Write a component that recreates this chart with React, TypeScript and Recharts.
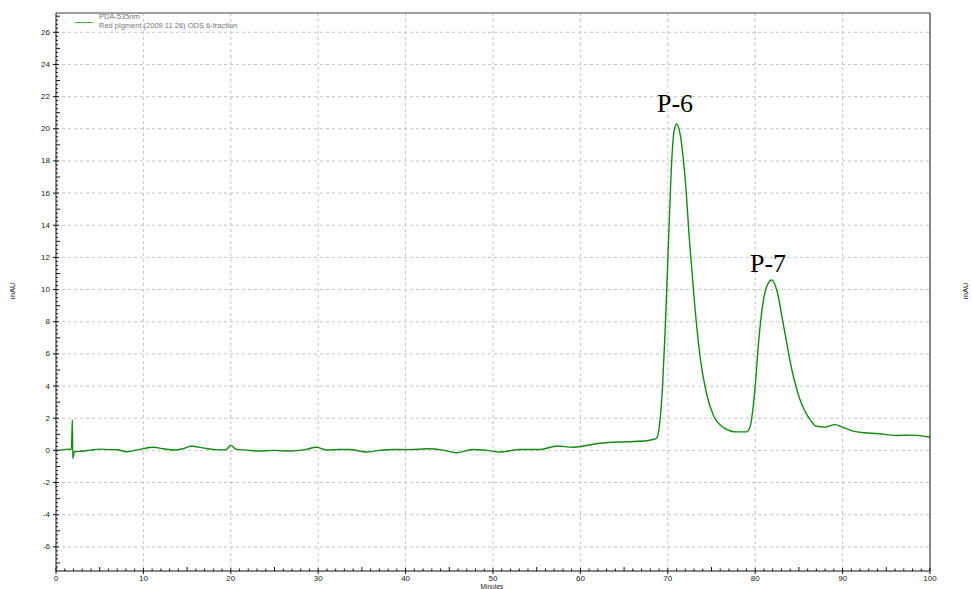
import React from 'react';
import { LineChart, Line, XAxis, YAxis, CartesianGrid, ReferenceLine } from 'recharts';

// retention time (min) and absorbance (mAU)
const minutes = [
  0, 0.8, 1.5, 1.75, 1.82, 1.87, 1.92, 2.1, 3, 4, 5, 6, 7, 8.1, 9.5, 11.1, 12.3, 13.4, 14.5, 15.5,
  16.3, 17.2, 18.2, 19.1, 19.6, 20.0, 20.4, 20.7, 21.8, 23.0, 25, 26.8, 28.5, 29.8, 31.0, 32.5, 33.6,
  35.5, 37, 38.6, 40.5, 42.4, 44.3, 45.8, 47.7, 49.3, 50.8, 53.1, 55.4, 57.3, 59.2, 60.3, 62.2, 65.3,
  67.6, 68.3, 68.7, 69.1, 69.4, 69.7, 70.06, 70.4, 70.7, 71.0, 71.4, 72.0, 72.5, 73.1, 73.7, 74.4,
  75.2, 76.3, 77.9, 79.0, 79.4, 79.6, 80.0, 80.4, 80.9, 81.4, 81.9, 82.5, 83.2, 84.2, 85.1, 86.3,
  87.0, 88.0, 89.1, 90.2, 91.2, 92.5, 93.9, 96.2, 98, 100,
];
const mau = [
  -0.02, 0.05, 0.08, 0.05, 0.94, 1.9, -0.5, -0.08, -0.05, 0.02, 0.08, 0.05, 0.04, -0.08, 0.05, 0.2,
  0.1, 0.02, 0.1, 0.27, 0.2, 0.12, 0.05, 0.02, 0.1, 0.33, 0.15, 0.06, 0.02, -0.04, 0.0, -0.04, 0.05,
  0.2, 0.02, 0.06, 0.06, -0.1, 0.0, 0.06, 0.05, 0.1, 0.02, -0.15, 0.06, 0.0, -0.1, 0.06, 0.06, 0.27,
  0.2, 0.27, 0.44, 0.54, 0.6, 0.68, 0.75, 1.8, 4.0, 7.5, 12.7, 17.5, 19.8, 20.3, 19.7, 16.8, 12.9, 8.9,
  5.8, 3.6, 2.2, 1.45, 1.15, 1.15, 1.45, 2.0, 4.0, 6.8, 9.2, 10.3, 10.6, 9.9, 7.9, 5.0, 3.2, 1.9, 1.5,
  1.45, 1.6, 1.4, 1.2, 1.1, 1.05, 0.93, 0.95, 0.82,
];

const xLabels = [0, 10, 20, 30, 40, 50, 60, 70, 80, 90, 100];
const yLabels = [-6, -4, -2, 0, 2, 4, 6, 8, 10, 12, 14, 16, 18, 20, 22, 24, 26];
const xGrid = [10, 20, 30, 40, 50, 60, 70, 80, 90];

const Y_MIN = -7.5;
const Y_MAX = 27.2;

const data = minutes.map((t, i) => ({ t, v: mau[i] }));

// ruler ticks: every minute on x, every 0.25 mAU on y
const xTicks = Array.from({ length: 101 }, (_, i) => i);
const yTicks = Array.from({ length: 138 }, (_, i) => -7.25 + i * 0.25);

const tickFont = { fontFamily: 'Liberation Sans, Arial, sans-serif', fontSize: 8, fill: '#222' };
const axisColor = '#111';

const LeftTick = ({ x, y, payload }: any) => {
  const v = payload.value;
  const major = yLabels.includes(v);
  const len = Number.isInteger(v) ? 4 : 2;
  return (
    <g>
      {major ? (
        <line x1={x - 3} x2={x + 3} y1={y} y2={y} stroke={axisColor} />
      ) : (
        <line x1={x} x2={x + len} y1={y} y2={y} stroke={axisColor} />
      )}
      {major && (
        <text x={x - 6} y={y} textAnchor="end" dominantBaseline="central" {...tickFont}>
          {v}
        </text>
      )}
    </g>
  );
};

const RightTick = ({ x, y, payload }: any) => {
  const v = payload.value;
  const major = yLabels.includes(v);
  const len = Number.isInteger(v) ? 4 : 2;
  return (
    <g>
      {major ? (
        <line x1={x - 3} x2={x + 3} y1={y} y2={y} stroke={axisColor} />
      ) : (
        <line x1={x} x2={x - len} y1={y} y2={y} stroke={axisColor} />
      )}
      {major && (
        <text x={x + 4} y={y} textAnchor="start" dominantBaseline="central" {...tickFont}>
          {v}
        </text>
      )}
    </g>
  );
};

const BottomTick = ({ x, y, payload }: any) => {
  const v = payload.value;
  const major = xLabels.includes(v);
  const len = v % 5 === 0 ? 4 : 2.5;
  return (
    <g>
      {major ? (
        <line x1={x} x2={x} y1={y - 3} y2={y + 3} stroke={axisColor} />
      ) : (
        <line x1={x} x2={x} y1={y} y2={y - len} stroke={axisColor} />
      )}
      {major && (
        <text x={x} y={y + 7} textAnchor="middle" dominantBaseline="central" {...tickFont}>
          {v}
        </text>
      )}
    </g>
  );
};

export default function App() {
  return (
    <div
      style={{
        position: 'fixed',
        left: 0,
        top: 0,
        width: 972,
        height: 589,
        background: '#fff',
        overflow: 'hidden',
      }}
    >
      <LineChart width={972} height={589} data={data} margin={{ top: 13, right: 0, bottom: 0, left: 0 }}>
        <CartesianGrid
          yAxisId="left"
          stroke="#c4c4c4"
          strokeDasharray="3 3"
          horizontalValues={yLabels}
          verticalValues={xGrid}
        />
        <XAxis
          dataKey="t"
          type="number"
          domain={[0, 100]}
          ticks={xTicks}
          interval={0}
          height={18}
          tickSize={0}
          tickMargin={0}
          stroke={axisColor}
          tick={<BottomTick />}
        />
        <YAxis
          yAxisId="left"
          type="number"
          domain={[Y_MIN, Y_MAX]}
          ticks={yTicks}
          interval={0}
          width={56}
          tickSize={0}
          tickMargin={0}
          stroke={axisColor}
          tick={<LeftTick />}
        />
        <YAxis
          yAxisId="right"
          orientation="right"
          type="number"
          domain={[Y_MIN, Y_MAX]}
          ticks={yTicks}
          interval={0}
          width={42}
          tickSize={0}
          tickMargin={0}
          stroke={axisColor}
          tick={<RightTick />}
        />
        <ReferenceLine yAxisId="left" y={Y_MAX} stroke="#808080" strokeWidth={1.5} />
        <Line
          yAxisId="left"
          dataKey="v"
          type="monotone"
          stroke="#128c12"
          strokeWidth={1.4}
          dot={false}
          isAnimationActive={false}
        />
      </LineChart>
      <svg
        width={972}
        height={589}
        style={{ position: 'absolute', left: 0, top: 0, pointerEvents: 'none' }}
      >
        <line x1={75} x2={93} y1={22.5} y2={22.5} stroke="#3cb43c" strokeWidth={1} />
        <text x={99} y={19} fontFamily="Liberation Sans, Arial, sans-serif" fontSize={7.5} fill="#777">
          PDA-535nm
        </text>
        <text x={99} y={28} fontFamily="Liberation Sans, Arial, sans-serif" fontSize={7.5} fill="#777">
          Red pigment (2009 11 26) ODS 6-fraction
        </text>
        <text
          x={15}
          y={291}
          transform="rotate(-90 15 291)"
          textAnchor="middle"
          fontFamily="Liberation Sans, Arial, sans-serif"
          fontSize={7.5}
          fill="#222"
        >
          mAU
        </text>
        <text
          x={968}
          y={291}
          transform="rotate(-90 968 291)"
          textAnchor="middle"
          fontFamily="Liberation Sans, Arial, sans-serif"
          fontSize={7.5}
          fill="#222"
        >
          mAU
        </text>
        <text
          x={492}
          y={588.5}
          textAnchor="middle"
          fontFamily="Liberation Sans, Arial, sans-serif"
          fontSize={6.5}
          fill="#222"
        >
          Minutes
        </text>
        <text x={675} y={112} textAnchor="middle" fontFamily="Liberation Serif, serif" fontSize={26} fill="#000">
          P-6
        </text>
        <text x={768} y={272} textAnchor="middle" fontFamily="Liberation Serif, serif" fontSize={26} fill="#000">
          P-7
        </text>
      </svg>
    </div>
  );
}
